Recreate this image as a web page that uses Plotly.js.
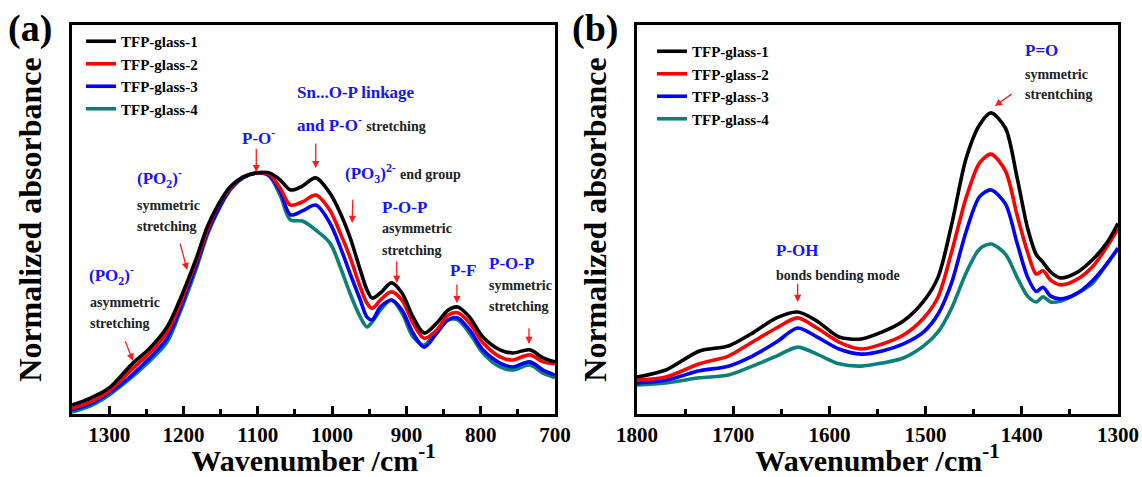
<!DOCTYPE html>
<html><head><meta charset="utf-8">
<script src="https://cdn.plot.ly/plotly-3.0.1.min.js"></script>
<style>html,body{margin:0;padding:0;background:#fff}#chart{width:1142px;height:477px}</style>
</head><body><div id="chart"></div>
<script>
// ---------- data ----------
const seriesNames = ['TFP-glass-1', 'TFP-glass-2', 'TFP-glass-3', 'TFP-glass-4'];

// Panel (a): 1350–700 cm-1
const wavenumberA = [1350,1325,1300,1270,1245,1222,1205,1194,1182,1168,1155,1137,1120,1100,1085,1070,1056,1040,1022,1003,989,976,962,953,946,935,920,906,891,876,859,844,831,815,797,774,757,734,716,700];
const glass1A = [0.023,0.041,0.067,0.127,0.170,0.224,0.293,0.344,0.404,0.481,0.532,0.584,0.609,0.620,0.620,0.602,0.576,0.586,0.607,0.568,0.517,0.455,0.370,0.319,0.298,0.311,0.337,0.311,0.249,0.208,0.234,0.267,0.275,0.249,0.198,0.165,0.157,0.165,0.144,0.134];
const glass2A = [0.015,0.031,0.059,0.114,0.158,0.211,0.280,0.337,0.396,0.473,0.530,0.581,0.609,0.620,0.617,0.581,0.537,0.545,0.563,0.524,0.465,0.404,0.326,0.285,0.272,0.293,0.314,0.293,0.234,0.195,0.216,0.254,0.260,0.234,0.183,0.147,0.139,0.152,0.134,0.129];
const glass3A = [0.010,0.026,0.054,0.099,0.145,0.195,0.267,0.324,0.386,0.465,0.519,0.578,0.607,0.620,0.614,0.573,0.512,0.522,0.537,0.491,0.429,0.362,0.293,0.249,0.242,0.275,0.293,0.267,0.208,0.172,0.208,0.242,0.247,0.216,0.165,0.131,0.121,0.134,0.113,0.100];
const glass4A = [0.005,0.021,0.049,0.094,0.137,0.185,0.260,0.314,0.378,0.460,0.517,0.576,0.607,0.620,0.612,0.563,0.499,0.496,0.473,0.440,0.378,0.311,0.249,0.224,0.237,0.267,0.293,0.260,0.198,0.177,0.216,0.242,0.242,0.208,0.157,0.121,0.113,0.126,0.105,0.093];

// Panel (b): 1800–1300 cm-1
const wavenumberB = [1800,1770,1735,1705,1680,1655,1633,1613,1590,1567,1545,1523,1502,1487,1473,1458,1444,1432,1417,1405,1394,1385,1378,1370,1360,1344,1326,1311,1300];
const glass1B = [0.095,0.113,0.162,0.175,0.208,0.247,0.262,0.239,0.198,0.193,0.211,0.239,0.290,0.352,0.486,0.656,0.743,0.774,0.735,0.609,0.478,0.410,0.390,0.365,0.350,0.362,0.398,0.442,0.490];
const glass2B = [0.087,0.095,0.129,0.149,0.185,0.221,0.247,0.221,0.185,0.167,0.180,0.203,0.247,0.301,0.416,0.555,0.645,0.668,0.625,0.512,0.416,0.360,0.368,0.344,0.332,0.344,0.380,0.432,0.476];
const glass3B = [0.080,0.087,0.111,0.123,0.149,0.185,0.221,0.198,0.167,0.154,0.162,0.180,0.211,0.257,0.337,0.468,0.558,0.576,0.540,0.440,0.352,0.315,0.326,0.303,0.296,0.308,0.344,0.388,0.427];
const glass4B = [0.075,0.080,0.093,0.100,0.123,0.149,0.172,0.154,0.129,0.123,0.131,0.144,0.175,0.211,0.272,0.362,0.424,0.437,0.411,0.352,0.303,0.288,0.301,0.288,0.290,0.308,0.337,0.388,0.424];

// tick labels
const ticksA = [1300,1200,1100,1000,900,800,700];
const ticksB = [1800,1700,1600,1500,1400,1300];

// ---------- style ----------
const W = 1142, H = 477;
const colors = ['#000000', '#ff0000', '#0000ff', '#0b8078'];
const FONT = 'Liberation Serif';
const BLUE = '#1414ff';

const seriesA = [glass1A, glass2A, glass3A, glass4A];
const seriesB = [glass1B, glass2B, glass3B, glass4B];

const traces = [];
seriesA.forEach((ys, i) => traces.push({
  x: wavenumberA, y: ys, type: 'scatter', mode: 'lines', name: seriesNames[i],
  line: {color: colors[i], width: 3.6, shape: 'spline', smoothing: 0.9},
  xaxis: 'x', yaxis: 'y', legend: 'legend'
}));
seriesB.forEach((ys, i) => traces.push({
  x: wavenumberB, y: ys, type: 'scatter', mode: 'lines', name: seriesNames[i],
  line: {color: colors[i], width: 3.6, shape: 'spline', smoothing: 0.8},
  xaxis: 'x2', yaxis: 'y2', legend: 'legend2'
}));
// draw in reverse so black is on top
traces.reverse();

function lab(text, px, py, size, color, anchor) {
  return {text, xref: 'paper', yref: 'paper', x: px / W, y: 1 - py / H,
    xanchor: anchor || 'left', yanchor: 'middle', showarrow: false,
    font: {family: FONT, size, color, weight: 'bold'}};
}
function arrow(xr, yr, tipX, tipY, tailX, tailY) {
  return {text: '', xref: xr, yref: yr, x: tipX, y: tipY, axref: xr, ayref: yr,
    ax: tailX, ay: tailY, showarrow: true, arrowhead: 2, arrowsize: 1.1,
    arrowwidth: 1.3, arrowcolor: '#ff1a1a'};
}
const B = 17, K = 14;
const annotations = [
  lab('(a)', 6, 28, 38, '#000'),
  lab('(b)', 570, 28, 38, '#000'),
  // panel a
  lab('(PO<sub>2</sub>)<sup>-</sup>', 87, 275, B, BLUE),
  lab('asymmetric', 88, 302, K, '#222'),
  lab('stretching', 88, 323, K, '#222'),
  lab('(PO<sub>2</sub>)<sup>-</sup>', 135, 178, B, BLUE),
  lab('symmetric', 135, 205, K, '#222'),
  lab('stretching', 135, 227, K, '#222'),
  lab('P-O<sup>-</sup>', 240, 137, B, BLUE),
  lab('Sn...O-P linkage', 295, 93, B, BLUE),
  lab('and P-O<sup>-</sup> <span style="color:#222;font-size:14px">stretching</span>', 295, 124, B, BLUE),
  lab('(PO<sub>3</sub>)<sup>2-</sup> <span style="color:#222;font-size:14px">end group</span>', 343, 173, B, BLUE),
  lab('P-O-P', 380, 207, B, BLUE),
  lab('asymmetric', 380, 228, K, '#222'),
  lab('stretching', 380, 250, K, '#222'),
  lab('P-F', 448, 270, B, BLUE),
  lab('P-O-P', 487, 263, B, BLUE),
  lab('symmetric', 487, 285, K, '#222'),
  lab('stretching', 487, 306, K, '#222'),
  // panel b
  lab('P-OH', 774, 250, B, BLUE),
  lab('bonds bending mode', 774, 275, K, '#222'),
  lab('P=O', 1023, 51, B, BLUE),
  lab('symmetric', 1023, 74, K, '#222'),
  lab('strentching', 1023, 94, K, '#222'),
  // arrows (a)
  arrow('x', 'y', 1268, 0.137, 1279, 0.190),
  arrow('x', 'y', 1195, 0.370, 1205, 0.442),
  arrow('x', 'y', 1102, 0.622, 1102, 0.686),
  arrow('x', 'y', 1022, 0.632, 1022, 0.699),
  arrow('x', 'y', 973, 0.491, 972, 0.555),
  arrow('x', 'y', 913, 0.337, 913, 0.396),
  arrow('x', 'y', 832, 0.285, 832, 0.337),
  arrow('x', 'y', 735, 0.180, 735, 0.224),
  // arrows (b)
  arrow('x2', 'y2', 1633, 0.288, 1633, 0.339),
  arrow('x2', 'y2', 1428, 0.792, 1409, 0.825)
];

const tickFont = {family: FONT, size: 21, color: '#000', weight: 'bold'};
const xTitleFont = {family: FONT, size: 30, color: '#000', weight: 'bold'};
const yTitleFont = {family: FONT, size: 32, color: '#000', weight: 'bold'};
const yDom = [1 - 414 / H, 1 - 25 / H];

function xAxis(dom, range, tickvals) {
  return {domain: dom, range, tickmode: 'array', tickvals, ticktext: tickvals.map(String),
    showline: true, mirror: true, linewidth: 3, linecolor: '#000',
    ticks: 'inside', ticklen: 8, tickwidth: 3, tickcolor: '#000',
    minor: {dtick: 50, tick0: 0, ticks: 'inside', ticklen: 5, tickwidth: 3, tickcolor: '#000', showgrid: false},
    showgrid: false, zeroline: false, tickfont: tickFont,
    title: {text: 'Wavenumber /cm<sup>-1</sup>', font: xTitleFont, standoff: 9}};
}
function yAxis(anchor) {
  return {domain: yDom, range: [0, 1], anchor, showline: true, mirror: true, linewidth: 3,
    linecolor: '#000', ticks: '', showticklabels: false, showgrid: false, zeroline: false,
    title: {text: 'Normalized absorbance', font: yTitleFont, standoff: 18}};
}
const legendBase = {bgcolor: 'rgba(0,0,0,0)', borderwidth: 0, xanchor: 'left', yanchor: 'top',
  font: {family: FONT, size: 15, color: '#000', weight: 'bold'}, tracegroupgap: 0,
  traceorder: 'reversed', itemwidth: 30};

const layout = {
  width: W, height: H, margin: {l: 0, r: 0, t: 0, b: 0},
  paper_bgcolor: '#fff', plot_bgcolor: '#fff', showlegend: true,
  font: {family: FONT, weight: 'bold'},
  xaxis: Object.assign(xAxis([72 / W, 555 / W], [1350, 700], ticksA), {anchor: 'y'}),
  yaxis: yAxis('x'),
  xaxis2: Object.assign(xAxis([637 / W, 1118 / W], [1800, 1300], ticksB), {anchor: 'y2'}),
  yaxis2: yAxis('x2'),
  legend: Object.assign({x: 81 / W, y: 1 - 25 / H}, legendBase),
  legend2: Object.assign({x: 652 / W, y: 1 - 35 / H}, legendBase),
  annotations
};

Plotly.newPlot('chart', traces, layout, {staticPlot: true, displayModeBar: false});
</script>
</body></html>
